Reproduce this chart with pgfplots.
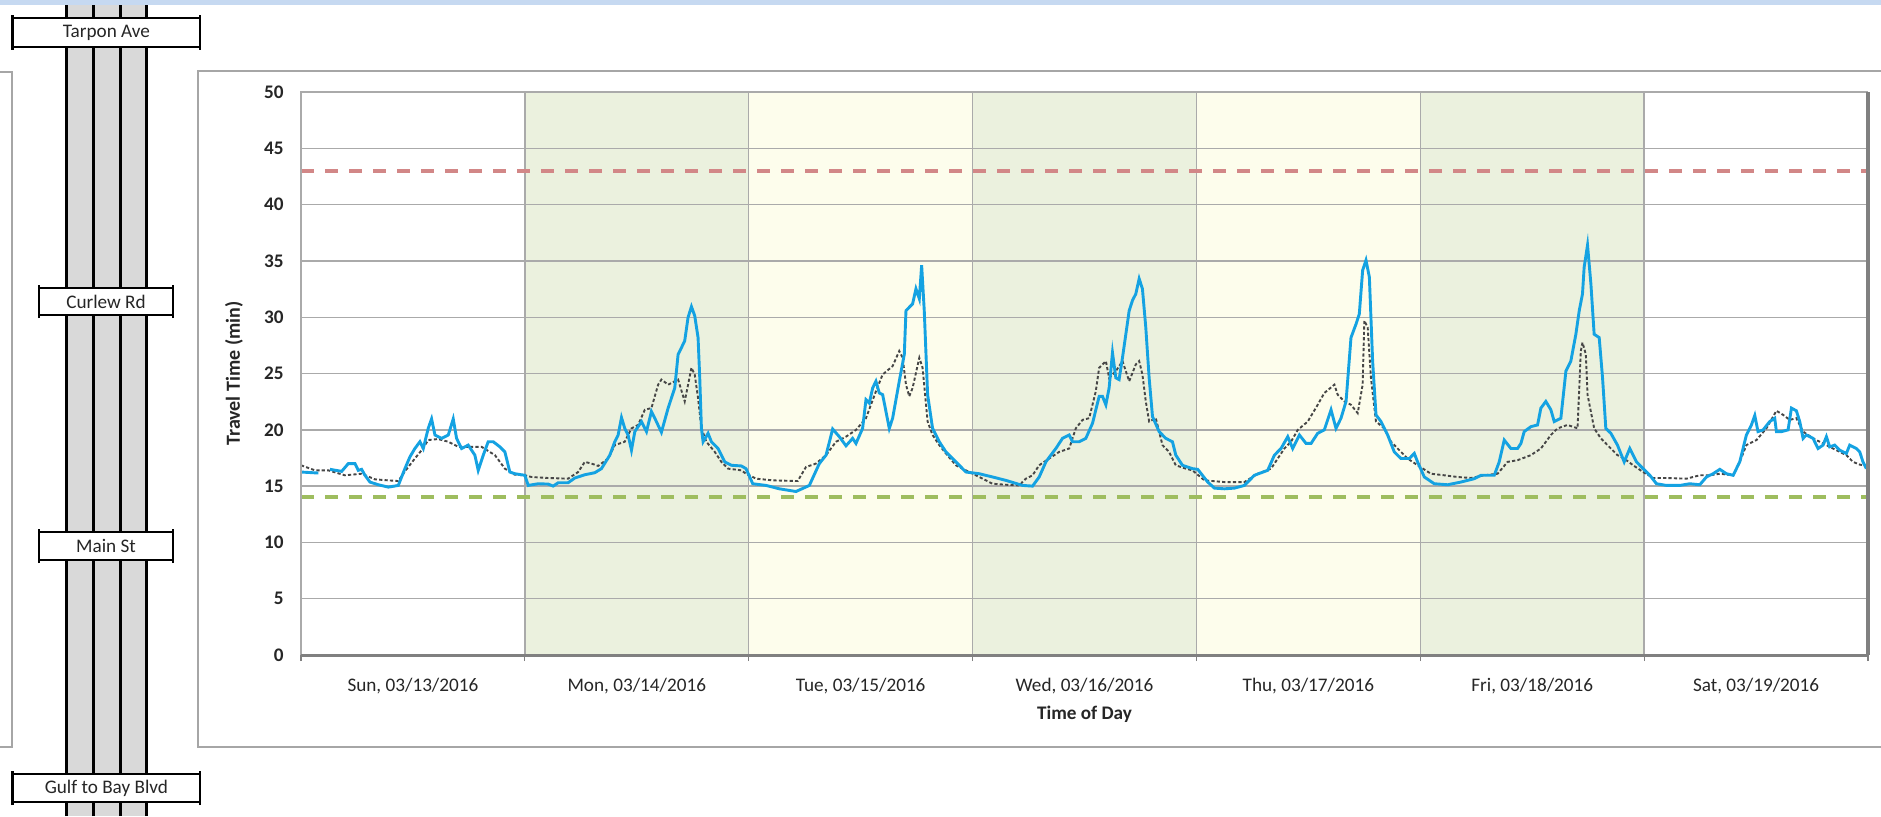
\documentclass[border=0pt]{standalone}
\usepackage{fontspec}
\setmainfont{Carlito}
\usepackage{pgfplots}
\pgfplotsset{compat=1.18}
\definecolor{topblue}{RGB}{198,217,241}
\definecolor{boxgray}{RGB}{166,166,166}
\definecolor{roadgray}{RGB}{217,217,217}
\definecolor{bandgreen}{RGB}{235,241,222}
\definecolor{bandyellow}{RGB}{253,253,236}
\definecolor{gridgray}{RGB}{170,170,170}
\definecolor{framegray}{RGB}{128,128,128}
\definecolor{curblue}{RGB}{20,162,226}
\definecolor{histgray}{RGB}{70,70,70}
\definecolor{reflred}{RGB}{210,135,135}
\definecolor{reflgreen}{RGB}{158,189,95}
\newcommand{\lblfont}{\fontsize{9.6}{11}\selectfont}
\pgfplotsset{chartgeom/.style={at={(150.5pt,80.5pt)}, anchor=south west,
  width=783.5pt, height=281.5pt, scale only axis,
  xmin=0, xmax=168, ymin=0, ymax=50}}
\begin{document}
\begin{tikzpicture}
\begin{scope}[x=0.5pt,y=0.5pt]
\path[use as bounding box] (0,0) rectangle (1881,816);
\fill[white] (0,0) rectangle (1881,816);
\draw[boxgray, line width=0.75pt] (-20,744) rectangle (12,69);
\draw[boxgray, line width=0.75pt] (198,745) rectangle (1920,69);
\fill[roadgray] (66.7,0) rectangle (146.7,816);
\foreach \xx in {66.7,93.3,120.7,146.7} \draw[black, line width=1.5pt] (\xx,0) -- (\xx,816);
\draw[black, fill=white, line width=0.6pt] (12.7,769) rectangle (200,798);
\draw[black, line width=1.4pt] (12.7,766) -- (12.7,801) (200,766) -- (200,801);
\node[font=\lblfont, text=black!85] at (106.4,783.5) {Tarpon Ave};
\draw[black, fill=white, line width=0.6pt] (39,501) rectangle (173,528);
\draw[black, line width=1.4pt] (39,498) -- (39,531) (173,498) -- (173,531);
\node[font=\lblfont, text=black!85] at (106,514.5) {Curlew Rd};
\draw[black, fill=white, line width=0.6pt] (39,256) rectangle (173,284);
\draw[black, line width=1.4pt] (39,253) -- (39,287) (173,253) -- (173,287);
\node[font=\lblfont, text=black!85] at (106,270) {Main St};
\draw[black, fill=white, line width=0.6pt] (12.7,14) rectangle (200,42);
\draw[black, line width=1.4pt] (12.7,11) -- (12.7,45) (200,11) -- (200,45);
\node[font=\lblfont, text=black!85] at (106.4,28) {Gulf to Bay Blvd};
\fill[topblue] (0,811) rectangle (1881,816);
\end{scope}
% background bands
\begin{axis}[chartgeom, hide axis]
\addplot[draw=none, fill=bandgreen] coordinates {(24,0) (24,50) (48,50) (48,0)} \closedcycle;
\addplot[draw=none, fill=bandyellow] coordinates {(48,0) (48,50) (72,50) (72,0)} \closedcycle;
\addplot[draw=none, fill=bandgreen] coordinates {(72,0) (72,50) (96,50) (96,0)} \closedcycle;
\addplot[draw=none, fill=bandyellow] coordinates {(96,0) (96,50) (120,50) (120,0)} \closedcycle;
\addplot[draw=none, fill=bandgreen] coordinates {(120,0) (120,50) (144,50) (144,0)} \closedcycle;
\end{axis}
\begin{axis}[
  chartgeom, clip=false,
  ytick={0,5,...,50},
  xtick={0,24,...,168}, xticklabels={},
  xtick pos=bottom, ytick pos=left,
  major tick length=3pt,
  xtick style={draw=framegray, line width=0.6pt, yshift=-3pt},
  ytick style={draw=none},
  extra x ticks={12,36,60,84,108,132,156},
  extra x tick labels={{Sun, 03/13/2016},{Mon, 03/14/2016},{Tue, 03/15/2016},{Wed, 03/16/2016},{Thu, 03/17/2016},{Fri, 03/18/2016},{Sat, 03/19/2016}},
  extra x tick style={major tick length=0pt, grid=none, xticklabel style={anchor=base, yshift=-18pt, font=\lblfont, text=black!85}},
  xmajorgrids, ymajorgrids,
  grid style={gridgray, line width=0.7pt},
  axis line style={draw=none},
  /pgf/number format/assume math mode=true,
  yticklabel style={anchor=east, inner sep=0pt, xshift=-8.5pt, font=\lblfont\bfseries, text=black!85},
  xlabel={Time of Day},
  xlabel style={at={(axis description cs:0.5,0)}, anchor=base, yshift=-32pt, font=\lblfont\bfseries, text=black!85},
  ylabel={Travel Time (min)},
  ylabel style={at={(axis description cs:-0.0428,0.5)}, anchor=center, font=\fontsize{10}{12}\selectfont\bfseries, text=black!85},
]
\addplot[reflred, line width=2.1pt, dash pattern=on 6.7pt off 5.3pt] coordinates {(0,43) (168,43)};
\addplot[reflgreen, line width=2.1pt, dash pattern=on 6.7pt off 5.3pt] coordinates {(0,14) (168,14)};
\addplot[histgray, line width=0.95pt, dash pattern=on 1.6pt off 1.1pt] table {
0 16.85
1.5 16.4
2.93 16.4
4.71 15.96
6.5 16.1
7.93 15.6
9.36 15.51
10.43 15.45
11.14 16.31
12.21 17.45
12.93 18.19
13.64 19.09
14.71 19.18
15.79 18.94
16.86 18.49
17.93 18.49
19.36 18.49
20.79 17.75
21.86 16.55
22.93 16.01
24.0 15.96
24.71 15.81
26.5 15.72
28.64 15.66
29.71 16.25
30.43 17.15
31.14 17.0
31.86 16.79
32.93 17.45
33.64 18.64
34.71 18.94
35.43 20.13
36.14 20.43
36.86 21.78
37.57 21.93
38.29 24.01
38.64 24.46
39.36 24.01
40.07 24.31
40.43 24.46
41.14 22.52
41.5 24.01
41.86 25.51
42.21 24.91
42.57 22.82
42.93 20.13
43.46 18.94
44.36 18.04
45.07 17.15
45.79 16.55
47.21 16.4
47.71 16.1
48.79 15.66
50.57 15.51
53.25 15.45
54.14 16.7
55.21 17.0
56.29 17.75
57.36 18.94
58.43 19.39
59.5 19.99
60.57 21.03
61.64 23.42
62.36 24.91
63.43 25.66
64.14 27.0
64.5 26.4
64.86 24.01
65.21 22.97
65.57 23.72
66.29 26.4
66.64 25.51
67.18 20.73
67.71 19.54
68.43 18.64
69.14 17.9
70.21 16.85
71.29 16.4
72.71 15.81
74.14 15.21
75.57 15.12
77.0 15.06
77.71 15.66
78.43 15.96
79.14 16.85
80.21 17.45
81.29 18.04
82.36 18.34
83.07 20.13
83.79 20.88
84.5 21.03
85.21 23.42
85.57 25.51
86.29 26.1
86.64 24.61
87.36 25.21
88.07 26.1
88.79 24.31
89.5 25.81
89.86 26.1
90.21 24.91
90.57 22.52
90.93 20.73
91.64 21.03
92.36 18.64
93.07 18.04
93.79 16.85
94.86 16.55
95.57 16.4
96.86 15.51
99.0 15.36
101.14 15.36
102.57 16.1
104.0 16.55
105.43 18.34
106.14 18.94
106.86 19.99
107.93 20.73
109.0 22.22
109.71 23.27
110.79 24.01
111.14 23.12
111.86 22.52
112.57 22.22
113.29 21.48
113.82 24.01
114.0 29.69
114.36 29.09
114.71 24.61
115.25 20.73
116.14 20.13
116.86 18.94
117.57 18.34
118.64 17.45
119.71 16.85
121.14 16.1
122.57 15.96
124.0 15.81
125.43 15.72
126.86 15.96
128.29 16.1
129.36 17.15
130.43 17.3
131.86 17.75
132.93 18.34
134.0 19.54
134.71 20.13
135.79 20.43
136.86 20.13
137.21 27.0
137.39 27.75
137.75 26.7
137.93 23.12
138.64 20.13
139.36 19.24
140.07 18.64
141.14 17.75
141.86 17.45
142.82 16.85
143.89 16.25
144.96 15.72
146.39 15.72
148.54 15.66
149.96 15.96
151.04 15.96
152.11 16.1
153.54 15.96
154.25 17.15
154.96 18.64
156.04 19.09
157.11 20.13
158.18 21.69
158.89 21.33
159.61 20.88
160.32 21.03
161.04 19.84
162.11 19.24
163.18 18.79
164.25 18.34
165.68 17.75
166.39 17.15
167.11 16.91
167.82 16.79
};
\addplot[curblue, line width=1.45pt, unbounded coords=jump] table {
0 16.25
1.86 16.16
2.5 nan
3.11 16.49
4.36 16.31
5.07 17.0
5.79 17.0
6.14 16.4
6.5 16.49
6.86 15.96
7.39 15.36
8.29 15.12
9.36 14.91
10.43 15.06
11.14 16.55
11.68 17.6
12.21 18.34
12.75 18.94
13.11 18.34
13.64 20.13
14.0 20.97
14.36 19.54
15.07 19.24
15.79 19.54
16.32 20.97
16.68 19.24
17.21 18.34
17.93 18.64
18.64 17.75
19.0 16.4
19.54 17.75
20.07 18.94
20.61 18.94
21.32 18.49
21.86 18.04
22.39 16.25
22.93 16.1
24.0 15.96
24.36 15.06
25.43 15.21
26.5 15.18
27.04 15.0
27.57 15.3
28.64 15.3
29.36 15.72
30.43 16.01
31.5 16.19
32.21 16.55
33.11 17.75
33.64 18.94
34.0 19.54
34.36 21.09
34.71 20.13
35.07 19.54
35.43 18.19
35.79 19.84
36.5 20.73
37.04 19.84
37.57 21.63
37.93 21.03
38.64 19.78
39.36 21.93
40.07 23.72
40.43 26.7
40.79 27.3
41.14 27.9
41.5 29.99
41.86 30.94
42.21 30.13
42.57 28.19
42.75 24.61
42.93 20.13
43.11 18.94
43.64 19.69
44.0 18.94
44.71 18.34
45.43 17.15
46.14 16.85
47.21 16.79
47.71 16.55
48.43 15.21
49.86 15.06
51.29 14.76
53.07 14.52
54.5 15.06
55.57 17.0
56.29 17.75
57.0 20.07
57.71 19.39
58.43 18.58
59.14 19.24
59.5 18.79
60.21 20.13
60.57 22.67
60.93 22.37
61.29 23.72
61.64 24.31
62.0 23.27
62.36 23.12
63.07 20.13
63.43 21.03
64.14 24.31
64.68 26.7
64.86 30.58
65.21 30.88
65.57 31.18
65.93 32.52
66.29 31.63
66.54 34.61
66.82 30.58
67.18 23.12
67.71 20.13
68.43 18.94
69.14 18.04
70.21 17.15
71.29 16.25
72.71 16.1
74.14 15.81
75.57 15.51
77.36 15.06
78.43 15.0
79.14 15.81
79.86 17.15
80.39 17.75
80.93 18.34
81.64 19.24
82.36 19.54
82.71 18.94
83.43 18.94
84.14 19.24
84.86 20.58
85.57 22.97
85.93 22.97
86.29 22.22
86.64 23.72
87.0 26.85
87.36 24.61
87.71 24.46
88.07 26.4
88.43 28.49
88.79 30.58
89.14 31.48
89.5 32.07
89.86 33.42
90.21 32.52
90.57 29.09
90.93 24.61
91.29 21.18
92.0 19.84
92.71 19.24
93.43 18.94
93.79 17.75
94.5 16.85
95.57 16.55
96.14 16.49
97.21 15.36
97.93 14.82
99.0 14.76
100.07 14.82
101.14 15.06
102.21 15.96
103.64 16.4
104.36 17.75
105.07 18.34
105.79 19.39
106.32 18.34
107.04 19.54
107.75 18.79
108.29 18.79
109.0 19.69
109.71 19.99
110.43 21.78
110.96 20.13
111.5 21.03
112.04 22.52
112.57 28.19
113.11 29.39
113.46 30.28
113.82 34.16
114.18 35.06
114.54 33.57
114.89 26.1
115.25 21.33
115.79 20.73
116.5 19.54
117.21 18.04
117.93 17.45
118.82 17.45
119.36 17.9
119.71 17.15
120.43 15.81
121.5 15.21
122.93 15.12
124.36 15.36
125.79 15.66
126.5 15.96
127.93 15.96
128.46 17.15
129.0 19.09
129.71 18.34
130.43 18.34
130.79 18.79
131.14 19.84
131.86 20.28
132.57 20.43
132.93 21.93
133.46 22.52
134.0 21.78
134.36 20.73
135.07 21.03
135.61 25.21
136.14 26.1
136.68 28.49
137.04 30.58
137.39 32.07
137.57 34.46
137.93 36.4
138.29 32.97
138.64 28.49
139.18 28.19
139.54 24.61
139.89 20.13
140.43 19.69
141.14 18.64
141.86 17.15
142.46 18.34
143.18 17.15
143.89 16.55
144.61 15.96
145.32 15.21
146.39 15.06
147.82 15.06
148.89 15.21
149.96 15.12
150.68 15.81
151.39 16.1
152.11 16.49
152.82 16.1
153.54 15.96
154.25 17.15
154.96 19.54
155.5 20.43
155.86 21.27
156.21 19.84
156.75 19.99
157.46 20.73
158.0 21.03
158.18 19.84
158.71 19.84
159.43 19.99
159.79 21.93
160.32 21.69
160.68 20.73
161.04 19.24
161.39 19.54
162.11 19.24
162.64 18.34
163.18 18.64
163.54 19.39
163.89 18.49
164.43 18.64
164.96 18.19
165.68 17.9
166.04 18.64
166.75 18.34
167.11 18.04
167.46 17.15
167.82 16.55
};
\draw[gridgray, line width=0.8pt] (rel axis cs:0,0) -- (rel axis cs:0,1) -- (rel axis cs:1,1);
\draw[framegray, line width=1.5pt] (rel axis cs:0,0) -- (rel axis cs:1,0);
\draw[framegray, line width=1.6pt] (rel axis cs:1,0) -- (rel axis cs:1,1);
\end{axis}
\end{tikzpicture}
\end{document}
